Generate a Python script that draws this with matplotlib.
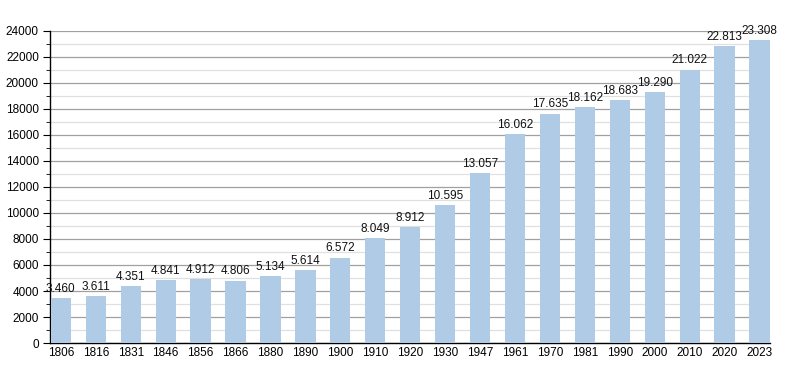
import matplotlib.pyplot as plt
from matplotlib.ticker import MultipleLocator

# census years and population
years = ["1806", "1816", "1831", "1846", "1856", "1866", "1880", "1890", "1900", "1910", "1920",
         "1930", "1947", "1961", "1970", "1981", "1990", "2000", "2010", "2020", "2023"]
population = [3460, 3611, 4351, 4841, 4912, 4806, 5134, 5614, 6572, 8049, 8912,
              10595, 13057, 16062, 17635, 18162, 18683, 19290, 21022, 22813, 23308]

plt.rcParams['font.family'] = ['Liberation Sans', 'DejaVu Sans']

fig = plt.figure(figsize=(8, 3.73), dpi=100)
ax = fig.add_axes([0.0625, 0.0804, 0.9, 0.8366])

x = range(len(years))
ax.bar(x, population, width=0.58, color='#b0cbe6', zorder=3)

# value labels with dot as thousands separator
for xi, v in zip(x, population):
    ax.text(xi, v + 250, f"{v:,}".replace(",", "."), ha='center', va='bottom',
            fontsize=8.5, color='#111111', zorder=4)

ax.set_ylim(0, 24000)
ax.set_xlim(-0.31, len(years) - 0.7)
ax.yaxis.set_major_locator(MultipleLocator(2000))
ax.yaxis.set_minor_locator(MultipleLocator(1000))
ax.grid(axis='y', which='major', color='#a0a0a0', linewidth=0.9, zorder=0)
ax.grid(axis='y', which='minor', color='#e0e0e0', linewidth=0.9, zorder=0)

ax.set_xticks(list(x))
ax.set_xticklabels(years)
ax.tick_params(axis='x', length=0, labelsize=8.5, pad=3)
ax.tick_params(axis='y', which='major', length=5, labelsize=8.5, pad=3)
ax.tick_params(axis='y', which='minor', length=3)

for side in ['top', 'right']:
    ax.spines[side].set_visible(False)
ax.spines['left'].set_linewidth(1.0)
ax.spines['bottom'].set_linewidth(1.0)

fig.savefig('out.png', dpi=100)
